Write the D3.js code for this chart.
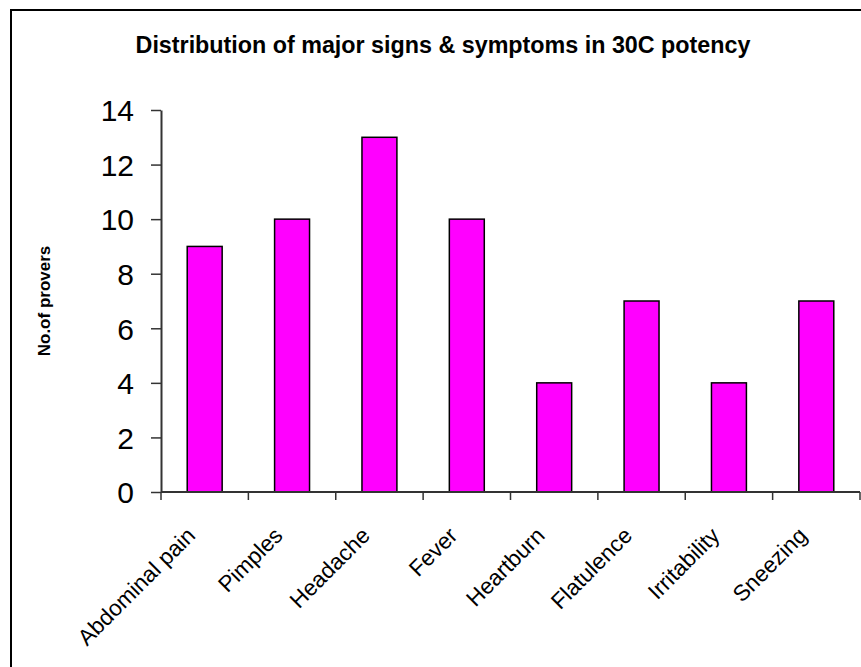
<!DOCTYPE html>
<html>
<head>
<meta charset="utf-8">
<script src="https://cdn.jsdelivr.net/npm/d3@7"></script>
<style>
  html, body { margin: 0; padding: 0; background: #fff; }
  svg { display: block; font-family: Arial, "Liberation Sans", sans-serif; }
</style>
</head>
<body>
<svg id="chart" width="861" height="667"></svg>
<script>
// Symptom counts recorded in the 30C potency proving
const categories = ["Abdominal pain", "Pimples", "Headache", "Fever", "Heartburn", "Flatulence", "Irritability", "Sneezing"];
const provers = [9, 10, 13, 10, 4, 7, 4, 7];
const yTicks = [0, 2, 4, 6, 8, 10, 12, 14];

const titleText = "Distribution of major signs & symptoms in 30C potency";
const yTitle = "No.of provers";

const svg = d3.select("#chart");

// outer chart frame (runs past the right and bottom edges)
svg.append("rect")
  .attr("x", 11).attr("y", 10)
  .attr("width", 900).attr("height", 700)
  .attr("fill", "none").attr("stroke", "#000").attr("stroke-width", 2);

const plot = { left: 161, right: 860, top: 110, bottom: 492 };

const x = d3.scaleBand().domain(categories).range([plot.left, plot.right]).padding(0);
const y = d3.scaleLinear().domain([0, 14]).range([plot.bottom, plot.top]);

const barWidth = x.bandwidth() * 0.4;

// bars
svg.append("g").selectAll("rect")
  .data(categories.map((c, i) => ({ c, v: provers[i] })))
  .join("rect")
  .attr("x", d => x(d.c) + (x.bandwidth() - barWidth) / 2)
  .attr("y", d => y(d.v))
  .attr("width", barWidth)
  .attr("height", d => y(0) - y(d.v))
  .attr("fill", "#ff00ff")
  .attr("stroke", "#000")
  .attr("stroke-width", 1.5);

// y axis
const yAxis = svg.append("g")
  .attr("transform", `translate(${plot.left},0)`)
  .call(d3.axisLeft(y).tickValues(yTicks).tickSize(10).tickPadding(17).tickSizeOuter(0));
yAxis.select(".domain").attr("stroke", "#333").attr("stroke-width", 2);
yAxis.selectAll(".tick line").attr("stroke", "#333").attr("stroke-width", 1.5);
yAxis.selectAll(".tick text")
  .attr("fill", "#000")
  .style("font-size", "30px")
  .attr("dy", "0.36em");

// x axis: baseline with ticks at the category boundaries
const xAxis = svg.append("g");
xAxis.append("line")
  .attr("x1", plot.left).attr("x2", plot.right)
  .attr("y1", y(0)).attr("y2", y(0))
  .attr("stroke", "#333").attr("stroke-width", 2);
const boundaries = categories.map(c => x(c)).concat([x(categories[categories.length - 1]) + x.bandwidth()]);
xAxis.selectAll("line.tick")
  .data(boundaries)
  .join("line")
  .attr("class", "tick")
  .attr("x1", d => d).attr("x2", d => d)
  .attr("y1", y(0)).attr("y2", y(0) + 8)
  .attr("stroke", "#333").attr("stroke-width", 1.5);

// rotated category labels
xAxis.selectAll("text")
  .data(categories)
  .join("text")
  .attr("transform", d => `translate(${x(d) + x.bandwidth() / 2 - 8},${y(0) + 45}) rotate(-45)`)
  .attr("text-anchor", "end")
  .style("font-size", "22.5px")
  .attr("fill", "#000")
  .text(d => d);

// chart title
svg.append("text")
  .attr("x", 443).attr("y", 53)
  .attr("text-anchor", "middle")
  .style("font-size", "23.3px")
  .style("font-weight", "bold")
  .text(titleText);

// y axis title
svg.append("text")
  .attr("transform", `translate(50,${(plot.top + plot.bottom) / 2}) rotate(-90)`)
  .attr("text-anchor", "middle")
  .style("font-size", "17px")
  .style("font-weight", "bold")
  .text(yTitle);
</script>
</body>
</html>
